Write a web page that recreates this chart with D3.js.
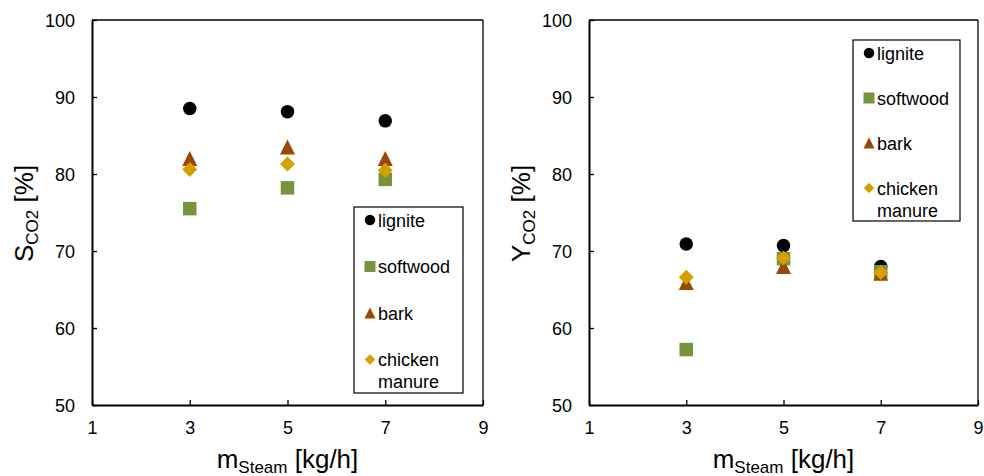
<!DOCTYPE html>
<html>
<head>
<meta charset="utf-8">
<script src="https://cdn.jsdelivr.net/npm/d3@7"></script>
<style>
  body { margin: 0; background: #fff; }
  text { font-family: "Liberation Sans", Arial, sans-serif; fill: #000; }
</style>
</head>
<body>
<div id="chart"></div>
<script>
// steam mass flow [kg/h]
const steam = [3, 5, 7];
const seriesNames = ['lignite', 'softwood', 'bark', 'chicken manure'];

// CO2 selectivity S_CO2 [%]
const selLignite = [88.5, 88.1, 86.9];
const selSoftwood = [75.5, 78.2, 79.3];
const selBark = [82.0, 83.5, 82.0];
const selChicken = [80.6, 81.3, 80.5];

// CO2 yield Y_CO2 [%]
const yldLignite = [70.9, 70.7, 68.0];
const yldSoftwood = [57.2, 69.0, 67.3];
const yldBark = [65.9, 68.0, 67.1];
const yldChicken = [66.6, 69.1, 67.2];

const xTicks = [1, 3, 5, 7, 9];
const yTicks = [50, 60, 70, 80, 90, 100];

const colors = ['#000000', '#77933c', '#984807', '#d4a000'];
const shapes = ['circle', 'square', 'triangle', 'diamond'];

const width = 984, height = 476;
const svg = d3.select('#chart').append('svg')
    .attr('width', width)
    .attr('height', height);

// marker path centred on 0,0, s = full width
function marker(shape, s) {
    const h = s / 2;
    if (shape === 'circle') {
        return `M${h},0A${h},${h} 0 1,1 ${-h},0A${h},${h} 0 1,1 ${h},0Z`;
    }
    if (shape === 'square') return `M${-h},${-h}H${h}V${h}H${-h}Z`;
    if (shape === 'triangle') return `M0,${-h}L${h},${h}L${-h},${h}Z`;
    return `M0,${-h}L${h},0L0,${h}L${-h},0Z`;
}
const markerSize = [13.5, 13.5, 15, 15];
const legendSize = [10.5, 11, 11, 10.5];

function panel(cfg) {
    const x = d3.scaleLinear().domain([1, 9]).range([cfg.left, cfg.right]);
    const y = d3.scaleLinear().domain([50, 100]).range([405, 20]);
    const g = svg.append('g');

    // frame: thin top/right
    g.append('line').attr('x1', cfg.left).attr('x2', cfg.right).attr('y1', 20).attr('y2', 20)
        .attr('stroke', '#000').attr('stroke-width', 1.3);
    g.append('line').attr('x1', cfg.right).attr('x2', cfg.right).attr('y1', 20).attr('y2', 405)
        .attr('stroke', '#000').attr('stroke-width', 1.3);

    const xAxis = g.append('g').attr('transform', 'translate(0,405)')
        .call(d3.axisBottom(x).tickValues(xTicks).tickSizeInner(-5).tickSizeOuter(0).tickPadding(17));
    const yAxis = g.append('g').attr('transform', `translate(${cfg.left},0)`)
        .call(d3.axisLeft(y).tickValues(yTicks).tickSizeInner(-5).tickSizeOuter(0).tickPadding(17));
    [xAxis, yAxis].forEach(a => {
        a.attr('font-size', 18).attr('font-family', '"Liberation Sans", Arial, sans-serif');
        a.select('.domain').attr('stroke', '#000').attr('stroke-width', 2);
        a.selectAll('.tick line').attr('stroke', '#000').attr('stroke-width', 1.3);
        a.selectAll('.tick text').style('font-size', '18px').attr('fill', '#000');
    });
    xAxis.selectAll('.tick text').attr('dy', null).attr('y', 29);
    yAxis.selectAll('.tick text').attr('dy', '0.35em');

    // points
    cfg.series.forEach((vals, i) => {
        g.append('g').selectAll('path')
            .data(vals)
            .join('path')
            .attr('d', marker(shapes[i], markerSize[i]))
            .attr('transform', (d, j) => `translate(${x(steam[j])},${y(d)})`)
            .attr('fill', colors[i]);
    });

    // axis titles
    const xt = g.append('text')
        .attr('x', (cfg.left + cfg.right) / 2)
        .attr('y', 468)
        .attr('text-anchor', 'middle')
        .style('font-size', '26px');
    xt.append('tspan').text('m');
    xt.append('tspan').attr('dy', 5).style('font-size', '17px').text('Steam');
    xt.append('tspan').attr('dy', -5).text(' [kg/h]');

    const yt = g.append('text')
        .attr('transform', `translate(${cfg.titleX},262) rotate(-90)`)
        .attr('text-anchor', 'start')
        .style('font-size', '26px');
    yt.append('tspan').text(cfg.letter);
    yt.append('tspan').attr('dy', 5).style('font-size', '17px').text('CO2');
    yt.append('tspan').attr('dy', -5).text(' [%]');

    // legend
    const lg = g.append('g').attr('transform', `translate(${cfg.legend[0]},${cfg.legend[1]})`);
    lg.append('rect').attr('width', cfg.legend[2]).attr('height', cfg.legend[3])
        .attr('fill', '#fff').attr('stroke', '#000').attr('stroke-width', 1.2);
    seriesNames.forEach((name, i) => {
        const item = lg.append('g').attr('transform', `translate(0,${13 + i * cfg.legend[4]})`);
        item.append('path').attr('d', marker(shapes[i], legendSize[i]))
            .attr('transform', 'translate(16,0)').attr('fill', colors[i]);
        const words = name.split(' ');
        const t = item.append('text').attr('x', 24).attr('y', 6.5).style('font-size', '18px');
        words.forEach((w, k) => {
            t.append('tspan').attr('x', 24).attr('dy', k === 0 ? 0 : 22).text(w);
        });
    });
}

panel({
    left: 92, right: 483, letter: 'S', titleX: 33,
    series: [selLignite, selSoftwood, selBark, selChicken],
    legend: [354, 207, 109, 186, 46.5]
});
panel({
    left: 589, right: 978, letter: 'Y', titleX: 530,
    series: [yldLignite, yldSoftwood, yldBark, yldChicken],
    legend: [853, 40, 107, 181, 45]
});
</script>
</body>
</html>
